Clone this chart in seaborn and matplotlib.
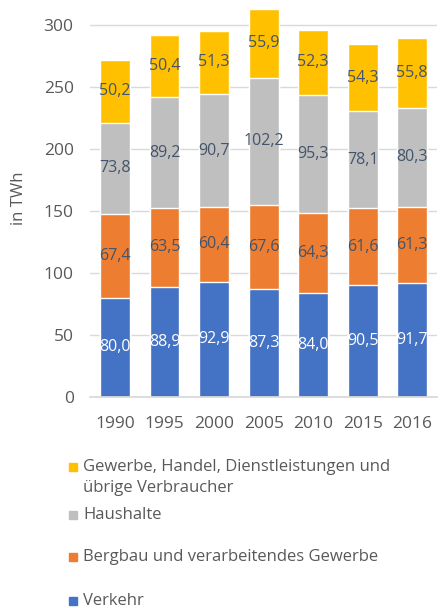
"""
Endenergieverbrauch nach Sektoren, gestapelte Balken (in TWh).
"""

import matplotlib
matplotlib.use("Agg")
import matplotlib.pyplot as plt
import matplotlib.patches as mpatches
import seaborn as sns
import numpy as np
import pandas as pd

# Data
years = ["1990", "1995", "2000", "2005", "2010", "2015", "2016"]
verkehr = [80.0, 88.9, 92.9, 87.3, 84.0, 90.5, 91.7]
bergbau = [67.4, 63.5, 60.4, 67.6, 64.3, 61.6, 61.3]
haushalte = [73.8, 89.2, 90.7, 102.2, 95.3, 78.1, 80.3]
gewerbe = [50.2, 50.4, 51.3, 55.9, 52.3, 54.3, 55.8]

series_names = [
    "Verkehr",
    "Bergbau und verarbeitendes Gewerbe",
    "Haushalte",
    "Gewerbe, Handel, Dienstleistungen und\nübrige Verbraucher",
]
series_values = [verkehr, bergbau, haushalte, gewerbe]
colors = ["#4472C4", "#ED7D31", "#BFBFBF", "#FFC000"]
label_colors = ["white", "#44546A", "#44546A", "#44546A"]

FONT = ["Open Sans", "DejaVu Sans"]
TEXT_GRAY = "#595959"


def build_frame():
    df = pd.DataFrame({"Jahr": years})
    for name, vals in zip(series_names, series_values):
        df[name] = vals
    return df


def plot_chart(df):
    sns.set_theme(style="white")
    plt.rcParams["font.family"] = FONT

    fig = plt.figure(figsize=(4.45, 6.08), dpi=100)
    ax = fig.add_axes([0.203, 0.347, 0.779, 0.653])

    cum = df[series_names].cumsum(axis=1)

    # draw cumulative layers from top to bottom so that each covers the next
    for i in reversed(range(len(series_names))):
        sns.barplot(
            x=df["Jahr"],
            y=cum[series_names[i]],
            color=colors[i],
            width=0.6,
            saturation=1,
            ax=ax,
            zorder=2,
        )

    # segment labels
    for i, name in enumerate(series_names):
        bottoms = cum[name] - df[name]
        for j, v in enumerate(df[name]):
            ax.text(
                j,
                bottoms[j] + v / 2,
                f"{v:.1f}".replace(".", ","),
                ha="center",
                va="center",
                fontsize=11.5,
                color=label_colors[i],
                zorder=3,
            )

    ax.set_ylim(0, 320)
    ax.set_xlim(-0.5, 6.5)
    ax.set_yticks(range(0, 301, 50))
    ax.yaxis.grid(True, color="#D9D9D9", linewidth=1, zorder=0)
    ax.set_axisbelow(True)
    for s in ["top", "right", "left"]:
        ax.spines[s].set_visible(False)
    ax.spines["bottom"].set_color("#D9D9D9")
    ax.tick_params(axis="both", length=0, labelsize=12.5, colors=TEXT_GRAY)
    ax.tick_params(axis="y", pad=12)
    ax.tick_params(axis="x", pad=14)
    ax.set_xlabel("")
    ax.set_ylabel("in TWh", fontsize=12, color=TEXT_GRAY, labelpad=12)
    ax.patch.set_alpha(0)

    # legend, top entry first
    legend_rows = [(3, 467), (2, 515), (1, 557), (0, 601)]
    W, H = 445, 608
    for idx, ypix in legend_rows:
        fig.patches.append(
            mpatches.Rectangle(
                (69 / W, 1 - (ypix + 4) / H),
                8 / W,
                8 / H,
                transform=fig.transFigure,
                color=colors[idx],
                figure=fig,
            )
        )
        fig.text(
            83 / W,
            1 - (ypix - 8) / H,
            series_names[idx],
            ha="left",
            va="top",
            fontsize=12,
            color=TEXT_GRAY,
            linespacing=1.45,
        )

    fig.savefig("out.png", dpi=100)


if __name__ == "__main__":
    plot_chart(build_frame())
